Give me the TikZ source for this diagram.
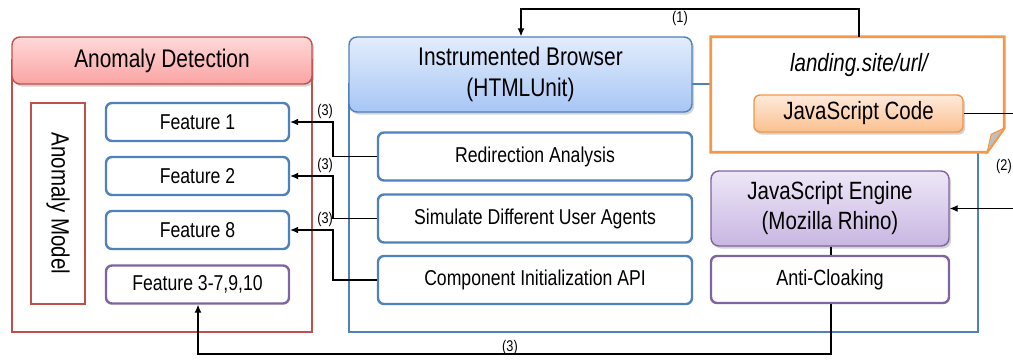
\documentclass[tikz,border=0pt]{standalone}
\usepackage{fontspec}
\setmainfont[FakeStretch=0.82]{Liberation Sans}
\usetikzlibrary{shadows,arrows.meta}

\definecolor{adred}{HTML}{C0504D}
\definecolor{ibblue}{HTML}{4F81BD}
\definecolor{jspurple}{HTML}{8064A2}
\definecolor{pgorange}{HTML}{F79646}
\definecolor{foldgray}{HTML}{BFBFBF}
\definecolor{adtop}{HTML}{FFD9D8}
\definecolor{adbot}{HTML}{F9A4A3}
\definecolor{ibtop}{HTML}{E3EDFC}
\definecolor{ibbot}{HTML}{A7C6F5}
\definecolor{jctop}{HTML}{FEEADB}
\definecolor{jcbot}{HTML}{FBC08E}
\definecolor{jetop}{HTML}{EEE7F7}
\definecolor{jebot}{HTML}{C8B6E2}

\newcommand\fsz[2]{\fontsize{#1}{#2}\selectfont}

\tikzset{
  plainbox/.style={draw, fill=white, line width=2.4pt, rounded corners=6pt,
    inner sep=0pt, align=center},
  featbox/.style={plainbox, draw=ibblue, minimum width=183pt, minimum height=38pt,
    font=\fsz{21.5}{26}},
  subbox/.style={plainbox, draw=ibblue, minimum width=314pt, minimum height=48pt,
    font=\fsz{21.5}{26}},
  hdr/.style={draw, line width=1.4pt, rounded corners=8pt, inner sep=0pt, align=center,
    drop shadow={shadow xshift=2pt, shadow yshift=-2.5pt, opacity=0.35}},
  frame/.style={line width=2.6pt},
  link/.style={line width=1.2pt, black},
  tip/.style={-{Latex[length=8pt,width=7pt]}},
  lbl/.style={font=\fsz{15.5}{18}, inner sep=0pt},
}

\begin{document}
\begin{tikzpicture}[x=1pt, y=-1pt]
\useasboundingbox (0,0) rectangle (1013,362);

% ---- Anomaly detection block ----
\draw[frame, adred] (12,60) rectangle (312,332);
\node[hdr, draw=adred, top color=adtop, bottom color=adbot,
      minimum width=300pt, minimum height=47pt, font=\fsz{25.5}{30}]
  (adhead) at (162,60.5) {Anomaly Detection};

\node[plainbox, draw=adred, rounded corners=0pt, minimum width=54pt, minimum height=201pt]
  (model) at (58,203.5) {};
\node[rotate=-90, font=\fsz{25}{30}] (modeltext) at (model.center) {Anomaly Model};

\node[featbox] (f1) at (197.5,122) {Feature 1};
\node[featbox] (f2) at (197.5,176) {Feature 2};
\node[featbox] (f8) at (197.5,230) {Feature 8};
\node[featbox, draw=jspurple] (frest) at (197.5,284.5) {Feature 3-7,9,10};

% ---- Instrumented browser block ----
\draw[frame, ibblue] (349,84) rectangle (978,332);
\node[hdr, draw=ibblue, top color=ibtop, bottom color=ibbot,
      minimum width=343pt, minimum height=75pt, font=\fsz{25.5}{31}]
  (ibhead) at (520.5,74.5) {Instrumented Browser\\(HTMLUnit)};

\node[subbox] (redir) at (535,156.5) {Redirection Analysis};
\node[subbox] (agents) at (535,218.5) {Simulate Different User Agents};
\node[subbox] (compinit) at (535,280) {Component Initialization API};

% ---- Landing page (folded note) ----
\node[minimum width=293pt, minimum height=115pt, inner sep=0pt] (landing) at (857.5,94.5) {};
\draw[pgorange, line width=2.8pt, fill=white, line join=miter]
  (landing.north west) -- (landing.north east) -- ([yshift=24pt]landing.south east)
  -- ([xshift=-17pt]landing.south east) -- (landing.south west) -- cycle;
\fill[foldgray, draw=pgorange, line width=1pt]
  ([yshift=24pt]landing.south east) -- ([xshift=-17pt]landing.south east)
  -- ([xshift=-13pt,yshift=18pt]landing.south east) -- cycle;
\node[font=\itshape\fsz{25}{30}] (url) at (859,65) {landing.site/url/};
\node[hdr, draw=pgorange, top color=jctop, bottom color=jcbot,
      rounded corners=6pt, minimum width=209pt, minimum height=37pt, font=\fsz{25}{30}]
  (jscode) at (858.5,113.5) {JavaScript Code};

% ---- JavaScript engine ----
\node[hdr, draw=jspurple, top color=jetop, bottom color=jebot,
      minimum width=238pt, minimum height=75pt, font=\fsz{25}{30}]
  (engine) at (830,208.5) {JavaScript Engine\\(Mozilla Rhino)};
\node[plainbox, draw=jspurple, minimum width=238pt, minimum height=47pt, font=\fsz{22}{26}]
  (cloak) at (830,279.5) {Anti-Cloaking};

% ---- Connectors ----
\coordinate (c1a) at (859,9);
\coordinate (c1b) at (521,9);
\draw[link, tip] (landing.north -| c1a) -- (c1a) -- (c1b) -- (ibhead.north -| c1b);
\node[lbl] (l1) at (680,18) {(1)};

\coordinate (c2a) at (1030,113.5);
\coordinate (c2b) at (1030,208.5);
\draw[link, tip] (jscode.east) -- (c2a) -- (c2b) -- (engine.east);
\node[lbl] (l2) at (1004,166) {(2)};

\coordinate (c3a) at (831,354);
\coordinate (c3b) at (198,354);
\draw[link] (engine.south -| c3a) -- (cloak.north -| c3a);
\draw[link, tip] (cloak.south -| c3a) -- (c3a) -- (c3b) -- (frest.south -| c3b);
\node[lbl] (l3) at (510,347) {(3)};

\coordinate (bx) at (333,0);
\coordinate (k1) at (f1.east -| bx);
\coordinate (k2) at (f2.east -| bx);
\coordinate (k8) at (f8.east -| bx);
\draw[link, tip] (redir.west) -- (redir.west -| bx) -- (k1) -- (f1.east);
\draw[link, tip] (agents.west) -- (agents.west -| bx) -- (k2) -- (f2.east);
\draw[link, tip] (compinit.west) -- (compinit.west -| bx) -- (k8) -- (f8.east);
\node[lbl, anchor=south east] (l3a) at ([yshift=3pt]k1) {(3)};
\node[lbl, anchor=south east] (l3b) at ([yshift=3pt]k2) {(3)};
\node[lbl, anchor=south east] (l3c) at ([yshift=3pt]k8) {(3)};
\end{tikzpicture}
\end{document}
